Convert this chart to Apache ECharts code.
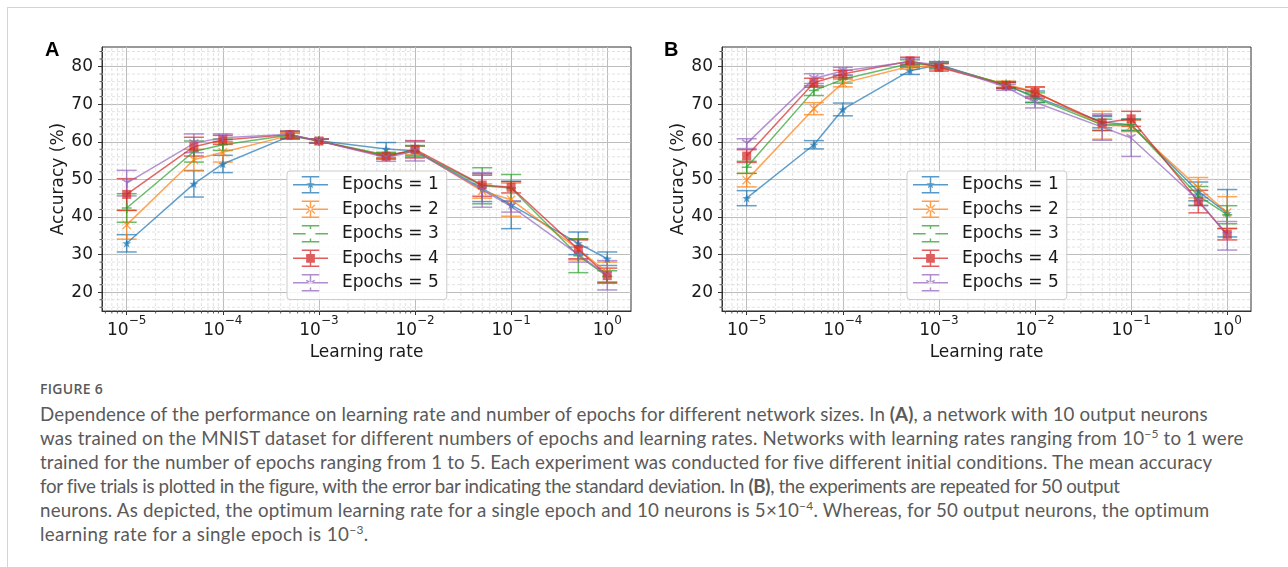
<!DOCTYPE html>
<html><head><meta charset="utf-8">
<script src="https://cdn.jsdelivr.net/npm/echarts@6/dist/echarts.min.js"></script>
<style>
html,body{margin:0;padding:0;background:#fff;width:1288px;height:567px;overflow:hidden;}
#frame{position:absolute;left:7px;top:7px;right:0;bottom:0;border-left:1px solid #d4d4d4;border-top:1px solid #d4d4d4;}
#chart{position:absolute;left:0;top:0;width:1288px;height:372px;}
#caption{position:absolute;left:40px;top:378px;font-family:'Lato';color:#5a5a5a;}
.fig{font-family:'Open Sans';font-size:14px;font-weight:600;letter-spacing:0.3px;line-height:22px;height:24px;}
.ln{font-size:18px;line-height:24px;white-space:nowrap;display:block;}
.ln span.in{display:inline-block;}
.ln b{font-weight:700;}
sup{font-size:12px;line-height:0;vertical-align:7px;}
</style></head>
<body>
<div id="frame"></div>
<div id="chart"></div>
<div id="caption">
<div class="fig">FIGURE 6</div>
<div class="ln" data-w="1167"><span class="in">Dependence of the performance on learning rate and number of epochs for different network sizes. In <b>(A)</b>, a network with 10 output neurons</span></div>
<div class="ln" data-w="1203"><span class="in">was trained on the MNIST dataset for different numbers of epochs and learning rates. Networks with learning rates ranging from 10<sup>−5</sup> to 1 were</span></div>
<div class="ln" data-w="1172"><span class="in">trained for the number of epochs ranging from 1 to 5. Each experiment was conducted for five different initial conditions. The mean accuracy</span></div>
<div class="ln" data-w="1040"><span class="in">for five trials is plotted in the figure, with the error bar indicating the standard deviation. In <b>(B)</b>, the experiments are repeated for 50 output</span></div>
<div class="ln" data-w="1170"><span class="in">neurons. As depicted, the optimum learning rate for a single epoch and 10 neurons is 5×10<sup>−4</sup>. Whereas, for 50 output neurons, the optimum</span></div>
<div class="ln" data-w="332"><span class="in">learning rate for a single epoch is 10<sup>−3</sup>.</span></div>
</div>
<script>
// ---------- data ----------
const learningRates = [1e-5, 5e-5, 1e-4, 5e-4, 1e-3, 5e-3, 1e-2, 5e-2, 1e-1, 5e-1, 1];
const seriesNames = ['Epochs = 1', 'Epochs = 2', 'Epochs = 3', 'Epochs = 4', 'Epochs = 5'];
const xTickValues = [1e-5, 1e-4, 1e-3, 1e-2, 1e-1, 1];
const yTickValues = [20, 30, 40, 50, 60, 70, 80];

// Panel A (10 output neurons): mean accuracy and std
const meanA1 = [33.0, 48.8, 54.1, 61.5, 60.3, 58.1, 57.6, 47.6, 43.2, 33.0, 28.9];
const meanA2 = [37.9, 55.2, 57.2, 61.7, 60.2, 56.3, 57.7, 46.9, 44.6, 31.4, 25.3];
const meanA3 = [42.4, 57.4, 59.2, 61.8, 60.2, 56.5, 57.5, 48.3, 47.7, 29.7, 24.2];
const meanA4 = [46.0, 58.7, 60.5, 61.9, 60.2, 56.1, 58.0, 48.5, 47.9, 31.4, 24.4];
const meanA5 = [49.0, 59.6, 61.1, 62.0, 60.2, 55.8, 57.5, 47.2, 42.8, 30.0, 24.5];
const stdA1 = [2.3, 3.5, 2.3, 0.8, 0.5, 1.7, 1.2, 3.5, 6.3, 3.0, 1.8];
const stdA2 = [3.8, 2.8, 2.6, 0.8, 0.5, 0.8, 1.2, 1.9, 4.4, 2.8, 2.7];
const stdA3 = [3.8, 2.8, 1.5, 1.0, 0.5, 0.7, 1.5, 4.8, 3.6, 4.5, 1.5];
const stdA4 = [4.2, 2.5, 1.2, 0.9, 0.5, 0.7, 2.3, 3.0, 1.5, 2.5, 2.0];
const stdA5 = [3.4, 2.5, 1.0, 0.8, 0.5, 1.0, 2.6, 4.6, 1.5, 2.0, 3.9];

// Panel B (50 output neurons)
const meanB1 = [45.0, 59.2, 68.6, 78.9, 80.5, 75.0, 72.0, 65.2, 64.5, 46.8, 41.0];
const meanB2 = [49.8, 68.8, 75.6, 80.1, 80.0, 75.3, 73.3, 64.4, 64.2, 47.8, 41.2];
const meanB3 = [53.2, 73.6, 76.6, 80.8, 80.3, 75.2, 71.7, 64.5, 64.5, 45.6, 40.6];
const meanB4 = [56.2, 75.7, 78.0, 81.5, 79.8, 75.0, 73.1, 65.0, 66.1, 44.1, 35.4];
const meanB5 = [59.5, 76.8, 78.8, 81.3, 80.5, 74.5, 70.5, 63.9, 61.0, 44.5, 35.0];
const stdB1 = [2.0, 1.1, 1.7, 1.0, 0.8, 0.8, 1.5, 1.5, 1.5, 2.5, 6.3];
const stdB2 = [1.8, 1.6, 1.0, 0.8, 0.8, 0.8, 1.2, 3.7, 1.5, 2.7, 4.2];
const stdB3 = [1.6, 1.3, 1.0, 1.0, 0.8, 0.8, 1.3, 1.5, 1.5, 2.5, 2.4];
const stdB4 = [1.7, 1.2, 1.0, 1.0, 1.0, 0.8, 1.5, 2.0, 2.0, 3.0, 1.5];
const stdB5 = [1.3, 1.3, 1.0, 1.0, 0.8, 0.8, 1.5, 3.5, 4.9, 1.5, 3.8];

// ---------- styling ----------
const colors = ['#1f77b4', '#ff7f0e', '#2ca02c', '#d62728', '#9467bd'];
const ALPHA = 0.7;
const X_MIN = Math.pow(10, -5.257), X_MAX = Math.pow(10, 0.247);
const Y_MIN = 15, Y_MAX = 85.2;
const FONT = 'DejaVu Sans';

// marker shapes (unit polygons)
function star() { const p = []; for (let i = 0; i < 10; i++) { const a = -Math.PI / 2 + i * Math.PI / 5; const r = i % 2 ? 0.42 : 1; p.push([r * Math.cos(a), r * Math.sin(a)]); } return [p]; }
function arm(dx, dy, t) { const l = Math.hypot(dx, dy); const px = -dy / l * t / 2, py = dx / l * t / 2; return [[px, py], [dx + px, dy + py], [dx - px, dy - py], [-px, -py]]; }
function xMark() { const t = 0.32; return [arm(1, 1, t), arm(-1, -1, t), arm(1, -1, t), arm(-1, 1, t)]; }
function plusMark() { const t = 0.3; return [arm(0, 1, t), arm(0, -1, t), arm(1, 0, t), arm(-1, 0, t)]; }
function square() { return [[[-1, -1], [1, -1], [1, 1], [-1, 1]]]; }
function triDown() { const t = 0.3; return [arm(0, 1, t), arm(0.866, -0.5, t), arm(-0.866, -0.5, t)]; }
const markers = [star(), xMark(), plusMark(), square(), triDown()];
const markerSizes = [9, 9, 10, 9, 10];
function polyPath(polys, s, cx, cy) {
  return polys.map(p => 'M' + p.map(q => (cx + q[0] * s).toFixed(2) + ' ' + (cy + q[1] * s).toFixed(2)).join('L') + 'Z').join(' ');
}
const symbolPaths = markers.map(m => 'path://' + polyPath(m, 5, 5, 5));
const errIconBase = 'M0 8.25h36v1.5H0Z M17.25 0h1.5v18h-1.5Z M9 0h18v1.5H9Z M9 16.5h18v1.5H9Z ';
const legendIcons = markers.map((m, i) => 'path://' + errIconBase + polyPath(m, markerSizes[i] / 2, 18, 9));

// ---------- builders ----------
function fmtX(v) {
  const e = Math.round(Math.log10(v));
  return '{b|10}{s|' + (e < 0 ? '\u2212' + (-e) : String(e)) + '}';
}
function xAxisCfg(gi) {
  return {
    type: 'log', logBase: 10, gridIndex: gi, min: X_MIN, max: X_MAX,
    axisLine: { show: true, lineStyle: { color: '#333', width: 1 } },
    axisTick: { show: true, inside: false, length: 4, lineStyle: { color: '#333', width: 1 }, customValues: xTickValues },
    axisLabel: {
      customValues: xTickValues, margin: 4, formatter: fmtX,
      rich: {
        b: { fontFamily: FONT, fontSize: 17, color: '#1a1a1a', lineHeight: 24, verticalAlign: 'bottom' },
        s: { fontFamily: FONT, fontSize: 12, color: '#1a1a1a', lineHeight: 12, verticalAlign: 'top' }
      }
    },
    splitLine: { show: true, lineStyle: { color: '#bdbdbd', width: 1 } },
    minorTick: { show: false }, minorSplitLine: { show: false },
    name: 'Learning rate', nameLocation: 'middle', nameGap: 23,
    nameTextStyle: { fontFamily: FONT, fontSize: 17, color: '#1a1a1a' }
  };
}
function yAxisCfg(gi) {
  return {
    type: 'value', gridIndex: gi, min: Y_MIN, max: Y_MAX,
    axisLine: { show: true, lineStyle: { color: '#333', width: 1 } },
    axisTick: { show: true, inside: false, length: 4, lineStyle: { color: '#333', width: 1 }, customValues: yTickValues },
    axisLabel: { customValues: yTickValues, margin: 9, fontFamily: FONT, fontSize: 17, color: '#1a1a1a' },
    splitLine: { show: true, lineStyle: { color: '#bdbdbd', width: 1 } },
    minorTick: { show: false }, minorSplitLine: { show: false },
    name: 'Accuracy (%)', nameLocation: 'middle', nameGap: 35,
    nameTextStyle: { fontFamily: FONT, fontSize: 17, color: '#1a1a1a' }
  };
}
// minor grid positions (x: 2..9 x 10^d ; y: every 2 units)
const minorX = [];
for (let d = -6; d <= 0; d++) for (let k = 2; k <= 9; k++) { const v = k * Math.pow(10, d); if (v > X_MIN && v < X_MAX) minorX.push(v); }
const minorY = [];
for (let v = 16; v < Y_MAX; v += 2) if (v % 10 !== 0) minorY.push(v);

function minorSeries(gi) {
  const data = minorX.map(v => [v, Y_MIN, 0]).concat(minorY.map(v => [X_MIN, v, 1]));
  return {
    type: 'custom', xAxisIndex: gi, yAxisIndex: gi, z: 1, silent: true, clip: false,
    data: data, encode: { x: 0, y: 1 },
    renderItem: function (params, api) {
      const kind = api.value(2);
      const grid = { stroke: '#dadada', lineWidth: 0.8, lineDash: [3, 2] };
      const tk = { stroke: '#333', lineWidth: 0.8 };
      if (kind === 0) {
        const v = api.value(0);
        const a = api.coord([v, Y_MIN]), b = api.coord([v, Y_MAX]);
        return { type: 'group', children: [
          { type: 'line', shape: { x1: a[0], y1: a[1], x2: b[0], y2: b[1] }, style: grid },
          { type: 'line', shape: { x1: a[0], y1: a[1], x2: a[0], y2: a[1] + 2.5 }, style: tk }
        ] };
      } else {
        const v = api.value(1);
        const a = api.coord([X_MIN, v]), b = api.coord([X_MAX, v]);
        return { type: 'group', children: [
          { type: 'line', shape: { x1: a[0], y1: a[1], x2: b[0], y2: b[1] }, style: grid },
          { type: 'line', shape: { x1: a[0], y1: a[1], x2: a[0] - 2.5, y2: a[1] }, style: tk }
        ] };
      }
    }
  };
}
function errSeries(gi, means, stds, i) {
  const color = colors[i];
  return {
    type: 'custom', name: 'err' + gi + '_' + i, xAxisIndex: gi, yAxisIndex: gi, z: 2, silent: true,
    data: learningRates.map((x, k) => [x, means[k], stds[k]]), encode: { x: 0, y: 1 },
    renderItem: function (params, api) {
      const x = api.value(0), m = api.value(1), s = api.value(2);
      const t = api.coord([x, m + s]), b = api.coord([x, m - s]);
      const cx = t[0], w = 10;
      const st = { stroke: color, lineWidth: 1.5, opacity: ALPHA };
      return { type: 'group', children: [
        { type: 'line', shape: { x1: cx, y1: t[1], x2: cx, y2: b[1] }, style: st },
        { type: 'line', shape: { x1: cx - w, y1: t[1], x2: cx + w, y2: t[1] }, style: st },
        { type: 'line', shape: { x1: cx - w, y1: b[1], x2: cx + w, y2: b[1] }, style: st }
      ] };
    }
  };
}
function lineSeries(gi, means, i) {
  return {
    type: 'line', name: seriesNames[i], xAxisIndex: gi, yAxisIndex: gi, z: 2,
    data: learningRates.map((x, k) => [x, means[k]]),
    symbol: symbolPaths[i], symbolSize: markerSizes[i], symbolKeepAspect: true, showSymbol: true, showAllSymbol: true,
    lineStyle: { color: colors[i], width: 1.5, opacity: ALPHA },
    itemStyle: { color: colors[i], opacity: ALPHA, borderWidth: 0 },
    emphasis: { disabled: true }, silent: true
  };
}
function legendCfg(left) {
  return {
    orient: 'vertical', left: left, top: 171, itemWidth: 35, itemHeight: 18, itemGap: 7,
    padding: [5, 8, 8, 6], backgroundColor: 'rgba(255,255,255,0.85)', borderColor: '#cccccc', borderWidth: 1, borderRadius: 3,
    selectedMode: false,
    textStyle: { fontFamily: FONT, fontSize: 17, color: '#1a1a1a', padding: [0, 0, 0, 9] },
    data: seriesNames.map((n, i) => ({ name: n, icon: legendIcons[i], itemStyle: { color: colors[i], opacity: 0.75, borderWidth: 0 } }))
  };
}

const meansA = [meanA1, meanA2, meanA3, meanA4, meanA5], stdsA = [stdA1, stdA2, stdA3, stdA4, stdA5];
const meansB = [meanB1, meanB2, meanB3, meanB4, meanB5], stdsB = [stdB1, stdB2, stdB3, stdB4, stdB5];
const series = [minorSeries(0), minorSeries(1)];
[[meansA, stdsA], [meansB, stdsB]].forEach(function (pair, gi) {
  for (let i = 0; i < 5; i++) {
    series.push(errSeries(gi, pair[0][i], pair[1][i], i));
    series.push(lineSeries(gi, pair[0][i], i));
  }
});

const chart = echarts.init(document.getElementById('chart'), null, { renderer: 'canvas' });
chart.setOption({
  animation: false,
  backgroundColor: 'transparent',
  grid: [
    { left: 102, top: 47, width: 529, height: 264, show: true, borderColor: '#333', borderWidth: 1, backgroundColor: 'transparent' },
    { left: 722, top: 47, width: 529, height: 264, show: true, borderColor: '#333', borderWidth: 1, backgroundColor: 'transparent' }
  ],
  xAxis: [xAxisCfg(0), xAxisCfg(1)],
  yAxis: [yAxisCfg(0), yAxisCfg(1)],
  legend: [legendCfg(287), legendCfg(907)],
  graphic: [
    { type: 'text', left: 45, top: 40, z: 10, style: { text: 'A', font: 'bold 20px "Liberation Sans"', fill: '#000' } },
    { type: 'text', left: 664, top: 40, z: 10, style: { text: 'B', font: 'bold 20px "Liberation Sans"', fill: '#000' } }
  ],
  series: series
});

// caption: one font size fitted to the reference's line widths, then a small per-line letter-spacing residual
(function () {
  const lines = Array.prototype.slice.call(document.querySelectorAll('.ln'));
  let sumT = 0, sumW = 0;
  lines.slice(0, 5).forEach(function (el) {
    sumT += parseFloat(el.getAttribute('data-w'));
    sumW += el.querySelector('.in').getBoundingClientRect().width;
  });
  const fs = 18 * sumT / sumW;
  lines.forEach(function (el) { el.style.fontSize = fs.toFixed(2) + 'px'; });
  lines.forEach(function (el) {
    const inner = el.querySelector('.in');
    const target = parseFloat(el.getAttribute('data-w'));
    const w = inner.getBoundingClientRect().width;
    const n = inner.textContent.length;
    let ls = (target - w) / n;
    ls = Math.max(-0.35, Math.min(0.35, ls));
    inner.style.letterSpacing = ls.toFixed(3) + 'px';
  });
})();
</script>
</body></html>
